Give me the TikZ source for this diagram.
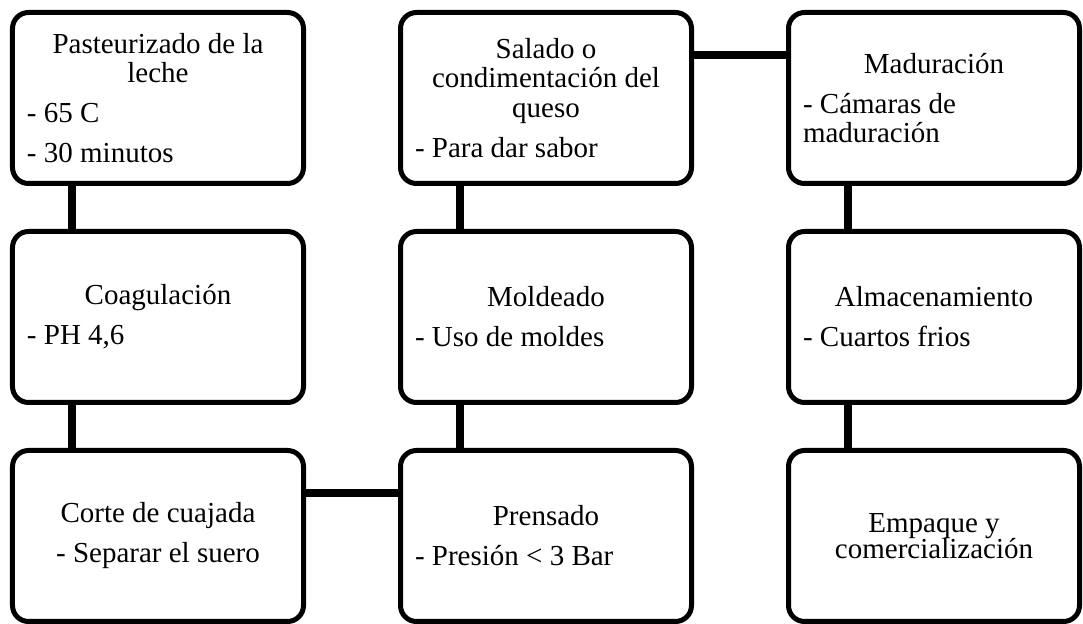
\documentclass[tikz,border=0pt]{standalone}
\usepackage{fontspec}
\setmainfont{Liberation Serif}
\usetikzlibrary{positioning}

\newcommand{\paso}[2]{%
  \setlength{\parskip}{5.25pt}{\centering #1\par}#2\par}

\begin{document}
\begin{tikzpicture}[
  node distance=21.5pt and 46pt,
  every node/.style={draw,line width=2.5pt,rounded corners=8pt,
    minimum width=145.5pt,minimum height=85.5pt,text width=131pt,
    inner xsep=7.25pt,align=flush left,font=\fontsize{14.5}{14.75}\selectfont},
  link/.style={draw,line width=4pt},
  ]
  \useasboundingbox (-5pt,5pt) rectangle (536.5pt,-307pt);
  \node[anchor=north west](past) at (0,0)
    {\paso{Pasteurizado de la\\leche}{- 65 C\par - 30 minutos}};
  \node[below=of past](coag){\paso{Coagulación}{- PH 4,6}};
  \node[below=of coag](corte){\paso{Corte de cuajada}{\centering - Separar el suero}};
  \node[right=of corte](prens){\paso{Prensado}{- Presión < 3 Bar}};
  \node[above=of prens](molde){\paso{Moldeado}{- Uso de moldes}};
  \node[above=of molde](salado){\paso{Salado o\\condimentación del\\queso}{- Para dar sabor}};
  \node[right=of salado](madur){\paso{Maduración}{- Cámaras de\\maduración}};
  \node[below=of madur](almac){\paso{Almacenamiento}{- Cuartos frios}};
  \node[below=of almac](empaq){\paso{Empaque y\\[-1.5pt]comercialización}{}};
  \path[link]
  ([xshift=31pt]past.south west) edge ([xshift=31pt]coag.north west)
  ([xshift=31pt]coag.south west) edge ([xshift=31pt]corte.north west)
  ([yshift=-22.5pt]corte.north east) edge ([yshift=-22.5pt]prens.north west)
  ([xshift=31pt]prens.north west) edge ([xshift=31pt]molde.south west)
  ([xshift=31pt]molde.north west) edge ([xshift=31pt]salado.south west)
  ([yshift=-22.5pt]salado.north east) edge ([yshift=-22.5pt]madur.north west)
  ([xshift=31pt]madur.south west) edge ([xshift=31pt]almac.north west)
  ([xshift=31pt]almac.south west) edge ([xshift=31pt]empaq.north west);
\end{tikzpicture}
\end{document}
